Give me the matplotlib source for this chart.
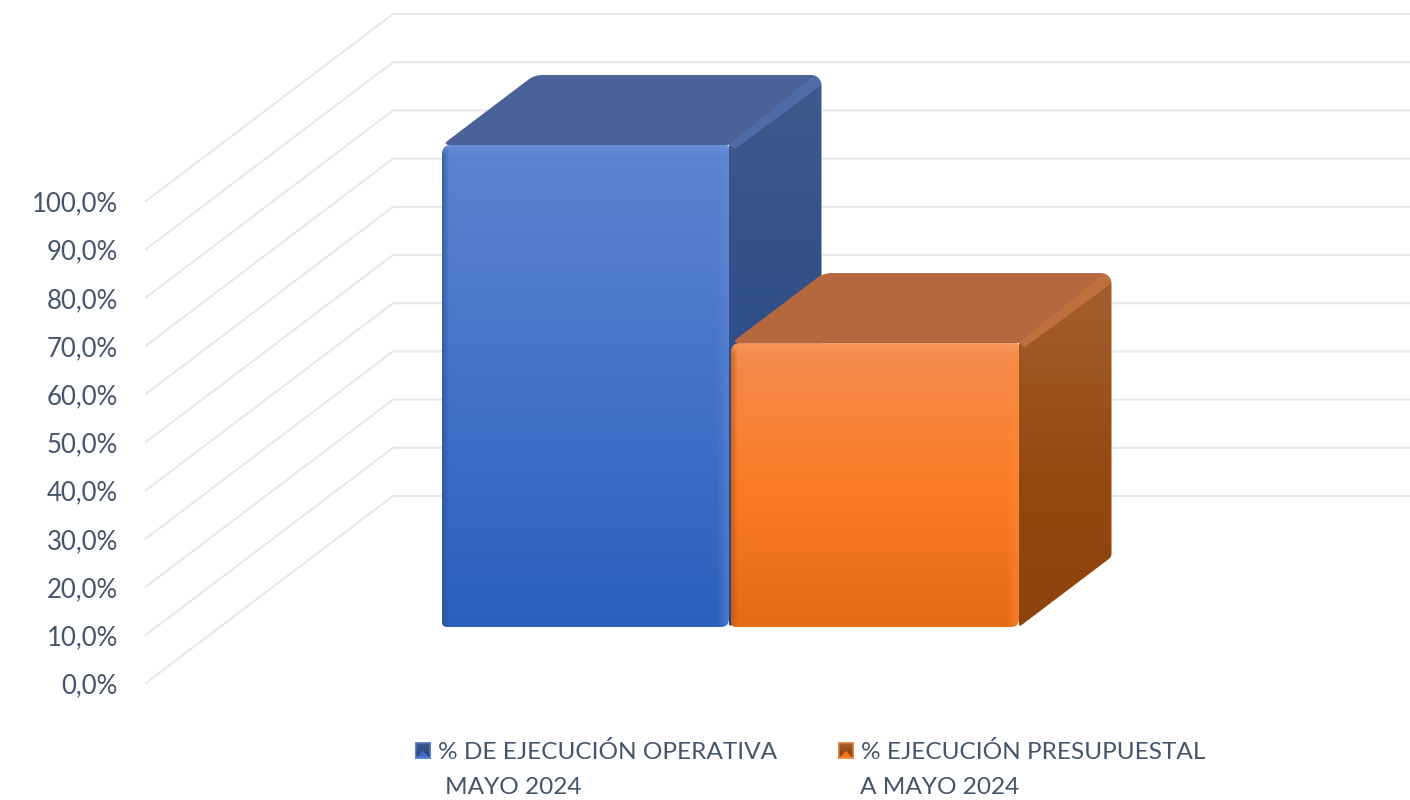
import numpy as np
import matplotlib
matplotlib.use("Agg")
import matplotlib.pyplot as plt
from matplotlib.path import Path
from matplotlib.patches import PathPatch
from matplotlib.colors import to_rgb

# ---- data ----
categories = ["% DE EJECUCIÓN OPERATIVA\nMAYO 2024", "% EJECUCIÓN PRESUPUESTAL\nA MAYO 2024"]
values = [100.0, 58.9]
ticks = [0, 10, 20, 30, 40, 50, 60, 70, 80, 90, 100]
tick_labels = ["0,0%", "10,0%", "20,0%", "30,0%", "40,0%", "50,0%", "60,0%", "70,0%", "80,0%", "90,0%", "100,0%"]

# ---- layout ----
W, H = 1410, 800
PX = 4.82            # pixels per percentage point
Y0 = 683             # pixel row of 0 % on the front of the floor
DX, DY = 247, 187    # pixel offset between front and back of the floor
D_FRONT, D_BACK = 0.2995, 0.674
bar_left = [442 - D_FRONT * DX, 731 - D_FRONT * DX]
bar_width = [287, 288]
TXT = "#44546A"
FONT = "Lato"

fig = plt.figure(figsize=(W / 100, H / 100), dpi=100)
ax = fig.add_axes([0, 0, 1, 1])
ylo, yhi = (Y0 - H) / PX, Y0 / PX
ax.set_xlim(0, W)
ax.set_ylim(ylo, yhi)
ax.axis("off")


def pt(x, depth, v):
    """Oblique projection: wall x, depth fraction, value -> data coordinates."""
    return (x + depth * DX, v + depth * DY / PX)


def rounded(verts, r):
    disp = ax.transData.transform(verts)
    n = len(disp)
    out, codes = [], []
    for i in range(n):
        p, a, b = disp[i], disp[i - 1], disp[(i + 1) % n]
        ua = (a - p) / np.linalg.norm(a - p)
        ub = (b - p) / np.linalg.norm(b - p)
        ri = r[i] if np.iterable(r) else r
        out += [p + ua * ri, p, p + ub * ri]
        codes += [Path.MOVETO if i == 0 else Path.LINETO, Path.CURVE3, Path.CURVE3]
    out.append(out[0])
    codes.append(Path.CLOSEPOLY)
    return Path(ax.transData.inverted().transform(np.array(out)), codes)


def ramp(stops, n):
    pos = [s[0] for s in stops]
    cols = np.array([to_rgb(s[1]) for s in stops])
    t = np.linspace(0, 1, n)
    return np.stack([np.interp(t, pos, cols[:, k]) for k in range(3)], axis=1)


def paint(rgb, path, z):
    xy = path.vertices
    patch = PathPatch(path, fc="none", ec="none", zorder=z)
    ax.add_patch(patch)
    im = ax.imshow(rgb, extent=(xy[:, 0].min(), xy[:, 0].max(), xy[:, 1].min(), xy[:, 1].max()),
                   origin="upper", aspect="auto", interpolation="bilinear", zorder=z)
    im.set_clip_path(patch)


def lerp(rgb, target, amount):
    return rgb + (np.array(target) - rgb) * amount[..., None]


# ---- grid ----
for v, lab in zip(ticks, tick_labels):
    xs, ys = zip(pt(146, 0, v), pt(146, 1, v), pt(W, 1, v))
    xs = list(xs); ys = list(ys)
    xs[2] = W
    ax.plot(xs, ys, color="#E6E8EF", lw=1.5, zorder=1, solid_joinstyle="round")
    ax.text(118, v - 3 / PX, lab, ha="right", va="center", color=TXT, fontsize=18.5,
            family=FONT, zorder=5)

# ---- bars ----
styles = [
    dict(front=[(0, "#5F84CE"), (.5, "#4472C8"), (1, "#2C60BC")], top="#4A6297", ridge="#4E6CA8",
         side=[(0, "#3F5A8C"), (.6, "#2C4B86"), (1, "#264480")],
         dark="#27508F", light="#5F8ADA", hi="#6C90DC"),
    dict(front=[(0, "#F48C52"), (.5, "#FB7C26"), (1, "#E66A15")], top="#B5673D", ridge="#C0703F",
         side=[(0, "#A55F30"), (.6, "#93480F"), (1, "#8C430D")],
         dark="#B4560F", light="#FF8C36", hi="#F99A5E"),
]

for i, (left, w, val, st) in enumerate(zip(bar_left, bar_width, values, styles)):
    right = left + w
    z = 3 + i * 0.5
    fbl, fbr = pt(left, D_FRONT, 0), pt(right, D_FRONT, 0)
    ftl, ftr = pt(left, D_FRONT, val), pt(right, D_FRONT, val)
    bbr = pt(right, D_BACK, 0)
    btl, btr = pt(left, D_BACK, val), pt(right, D_BACK, val)

    # side face
    side_path = rounded([fbr, ftr, btr, bbr], [3, 1, 12, 3])
    n = int(val * PX) + 70
    side = np.repeat(ramp(st["side"], n)[:, None, :], 2, axis=1)
    paint(side, side_path, z)

    # top face
    top_path = rounded([ftl, btl, btr, ftr], [8, 8, 12, 1])
    ax.add_patch(PathPatch(top_path, fc=st["top"], ec="none", zorder=z + 0.01))

    # lighter ridge between top and side, kept inside the bar's silhouette
    outline = PathPatch(rounded([ftl, btl, btr, bbr, fbr, fbl], [8, 8, 12, 3, 8, 5]),
                        fc="none", ec="none", zorder=z)
    ax.add_patch(outline)
    ridge = [ftr, (btr[0] - 7, btr[1]), (btr[0], btr[1]), (btr[0], btr[1] - 10 / PX),
             (ftr[0] + 6, ftr[1] - 4 / PX)]
    poly = ax.fill(*zip(*ridge), color=st["ridge"], lw=0, zorder=z + 0.02)[0]
    poly.set_clip_path(outline)

    # front face with bevelled rim
    hpx, wpx = int(val * PX), int(w)
    rgb = np.repeat(ramp(st["front"], hpx)[:, None, :], wpx, axis=1)
    yy, xx = np.mgrid[0:hpx, 0:wpx]
    rgb = lerp(rgb, to_rgb(st["dark"]), 0.6 * np.clip(1 - xx / 7, 0, 1))
    rgb = lerp(rgb, to_rgb(st["light"]), 0.55 * np.clip(1 - (wpx - 1 - xx) / 12, 0, 1))
    rgb = lerp(rgb, to_rgb(st["hi"]), 0.8 * np.clip(1 - yy / 12, 0, 1))
    paint(rgb, rounded([fbl, ftl, ftr, fbr], [5, 9, 3, 8]), z + 0.03)

# ---- legend ----
swatch_x = [415, 838]
text_x = [438, 861]
second_x = [445, 860]
SW = 16
LEG_SIZE = 17.6
for lab, sx, tx, tx2, st in zip(categories, swatch_x, text_x, second_x, styles):
    first, second = lab.split("\n")
    ya, yb = (Y0 - 743) / PX, (Y0 - 759) / PX
    xg = np.linspace(-1, 1, SW * 2)
    gx, gy = np.meshgrid(xg, xg)
    img = np.repeat(ramp(st["side"], SW * 2)[:, None, :], SW * 2, axis=1)
    img = lerp(img, to_rgb(st["front"][1][1]), (gy > np.abs(gx)).astype(float) * 0.9)
    img = lerp(img, to_rgb(st["hi"]), (np.maximum(np.abs(gx), np.abs(gy)) > 0.82).astype(float) * 0.8)
    ax.imshow(img, extent=(sx, sx + SW, yb, ya), origin="upper", aspect="auto", zorder=5)
    ax.text(tx, (Y0 - 752) / PX, first, ha="left", va="center", color=TXT, fontsize=LEG_SIZE, family=FONT)
    ax.text(tx2, (Y0 - 787) / PX, second, ha="left", va="center", color=TXT, fontsize=LEG_SIZE, family=FONT)

ax.set_xlim(0, W)
ax.set_ylim(ylo, yhi)
fig.savefig("out.png", dpi=100, facecolor="white")
